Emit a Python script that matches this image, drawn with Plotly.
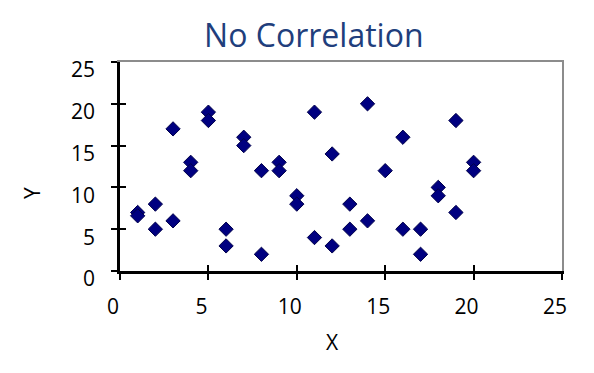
import plotly.graph_objects as go

x_vals = [1, 1, 2, 2, 3, 3, 4, 4, 5, 5, 6, 6, 7, 7, 8, 8, 9, 9, 10, 10,
          11, 11, 12, 12, 13, 13, 14, 14, 15, 16, 16, 17, 17, 18, 18, 19, 19, 20, 20]
y_vals = [7, 6.6, 8, 5, 17, 6, 13, 12, 19, 18, 5, 3, 16, 15, 12, 2, 13, 12, 9, 8,
          19, 4, 14, 3, 8, 5, 20, 6, 12, 16, 5, 5, 2, 10, 9, 18, 7, 13, 12]
tick_vals = [0, 5, 10, 15, 20, 25]
tick_text = ["0", "5", "10", "15", "20", "25"]

FONT = "Open Sans"
W, H = 594, 373
L, R, T, B = 120, 32, 62, 102

fig = go.Figure()
fig.add_trace(go.Scatter(
    x=x_vals, y=y_vals, mode="markers",
    marker=dict(symbol="diamond", size=11, color="#000080",
                line=dict(color="#00004a", width=1)),
    showlegend=False, hoverinfo="skip"))
# empty helper traces so the overlay axes are drawn
fig.add_trace(go.Scatter(x=[], y=[], xaxis="x2", yaxis="y2", showlegend=False))
fig.add_trace(go.Scatter(x=[], y=[], xaxis="x3", yaxis="y3", showlegend=False))

rng = [0, 25]
fig.update_layout(
    width=W, height=H, autosize=False,
    margin=dict(l=L, r=R, t=T, b=B, pad=0),
    paper_bgcolor="white", plot_bgcolor="white",
    font=dict(family=FONT, color="#000000"),
    title=dict(text="No Correlation", font=dict(family=FONT, size=32, color="#213E7C"),
               xref="paper", x=0.4385, xanchor="center",
               yref="container", y=1 - 36 / H, yanchor="middle"),
    xaxis=dict(range=rng, tickmode="array", tickvals=tick_vals, ticktext=tick_text,
               showgrid=False, zeroline=False, showline=True, linecolor="black",
               linewidth=2.5, ticks="outside", ticklen=6, tickwidth=2, tickcolor="black",
               tickfont=dict(size=21, family=FONT, color="black"),
               ticklabelstandoff=9, ticklabelshift=-7, fixedrange=True),
    yaxis=dict(range=rng, tickmode="array", tickvals=tick_vals, ticktext=tick_text,
               showgrid=False, zeroline=False, showline=True, linecolor="black",
               linewidth=2.5, ticks="outside", ticklen=6, tickwidth=2, tickcolor="black",
               tickfont=dict(size=21, family=FONT, color="black"),
               ticklabelstandoff=12, ticklabelshift=8, fixedrange=True),
    # grey top / right frame
    xaxis2=dict(range=rng, overlaying="x", side="top", anchor="y", showgrid=False,
                zeroline=False, showline=True, linecolor="#8c8c8c", linewidth=2,
                ticks="", showticklabels=False, fixedrange=True),
    yaxis2=dict(range=rng, overlaying="y", side="right", anchor="x", showgrid=False,
                zeroline=False, showline=True, linecolor="#8c8c8c", linewidth=2,
                ticks="", showticklabels=False, fixedrange=True),
    # inside half of the crossing ticks
    xaxis3=dict(range=rng, overlaying="x", side="bottom", anchor="y", showgrid=False,
                zeroline=False, showline=False, tickmode="array", tickvals=tick_vals,
                ticks="inside", ticklen=6, tickwidth=2, tickcolor="black",
                showticklabels=False, fixedrange=True),
    yaxis3=dict(range=rng, overlaying="y", side="left", anchor="x", showgrid=False,
                zeroline=False, showline=False, tickmode="array", tickvals=tick_vals,
                ticks="inside", ticklen=6, tickwidth=2, tickcolor="black",
                showticklabels=False, fixedrange=True),
    annotations=[
        dict(text="X", xref="paper", yref="paper", x=(332 - L) / (W - L - R),
             y=(H - B - 342) / (H - T - B), xanchor="center", yanchor="middle",
             showarrow=False, font=dict(size=21, family=FONT, color="black")),
        dict(text="Y", xref="paper", yref="paper", x=(32 - L) / (W - L - R),
             y=(H - B - 193) / (H - T - B), xanchor="center", yanchor="middle",
             textangle=-90, showarrow=False, font=dict(size=21, family=FONT, color="black")),
    ],
)

fig.write_html("out.html", config={"displayModeBar": False})
